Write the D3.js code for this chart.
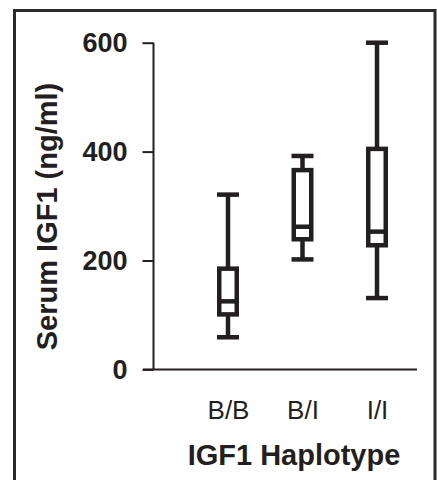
<!DOCTYPE html>
<html><head><meta charset="utf-8">
<script src="https://cdn.jsdelivr.net/npm/d3@7"></script>
<style>html,body{margin:0;padding:0;background:#fff;}svg{display:block;}</style>
</head><body>
<script>
const categories = ["B/B", "B/I", "I/I"];
const minVals    = [59, 202, 131];
const q1Vals     = [101, 239, 228];
const medianVals = [125, 262, 253];
const q3Vals     = [185, 366, 405];
const maxVals    = [321, 392, 600];
const yTicks     = [0, 200, 400, 600];

const W = 437, H = 480, ink = "#231f20";
const svg = d3.select("body").append("svg").attr("width", W).attr("height", H);

svg.append("rect").attr("x", 14.5).attr("y", 10.5).attr("width", 420.5).attr("height", 500)
  .attr("fill", "none").attr("stroke", "#2b2b2b").attr("stroke-width", 3);

const y = d3.scaleLinear().domain([0, 600]).range([369.4, 42.7]);
const x = d3.scalePoint().domain(categories).range([228, 377]);

const font = "'Liberation Sans', Arial, Helvetica, sans-serif";

// y axis
const yAxis = svg.append("g").attr("transform", "translate(153.5,0)")
  .call(d3.axisLeft(y).tickValues(yTicks).tickSize(11).tickPadding(15).tickFormat(d3.format("d")));
yAxis.select(".domain").attr("stroke", ink).attr("stroke-width", 2).attr("d", `M0,${y(600)}V${y(0)}`);
yAxis.selectAll(".tick line").attr("stroke", ink).attr("stroke-width", 2);
yAxis.selectAll(".tick text").attr("fill", ink).style("font-family", font)
  .style("font-size", "27px").style("font-weight", "bold");

// x axis baseline
const xAxis = svg.append("g").attr("transform", `translate(0,${y(0)})`)
  .call(d3.axisBottom(x).tickSize(0));
xAxis.select(".domain").attr("stroke", ink).attr("stroke-width", 2).attr("d", "M143,0H417");
xAxis.selectAll(".tick text").attr("fill", ink).attr("y", 419 - y(0)).attr("dy", 0)
  .style("font-family", font).style("font-size", "26px");

// boxes
const data = categories.map((c, i) => ({c, min: minVals[i], q1: q1Vals[i], med: medianVals[i], q3: q3Vals[i], max: maxVals[i]}));
const bw = 17.5, cw = 22, sw = 4.5;
const g = svg.append("g").attr("stroke", ink).attr("stroke-width", sw).attr("fill", "none");
data.forEach(d => {
  const cx = x(d.c);
  g.append("line").attr("x1", cx).attr("x2", cx).attr("y1", y(d.max)).attr("y2", y(d.q3));
  g.append("line").attr("x1", cx).attr("x2", cx).attr("y1", y(d.q1)).attr("y2", y(d.min));
  g.append("line").attr("x1", cx - cw/2).attr("x2", cx + cw/2).attr("y1", y(d.max)).attr("y2", y(d.max));
  g.append("line").attr("x1", cx - cw/2).attr("x2", cx + cw/2).attr("y1", y(d.min)).attr("y2", y(d.min));
  g.append("rect").attr("x", cx - bw/2).attr("width", bw).attr("y", y(d.q3)).attr("height", y(d.q1) - y(d.q3)).attr("fill", "#fff");
  g.append("line").attr("x1", cx - bw/2).attr("x2", cx + bw/2).attr("y1", y(d.med)).attr("y2", y(d.med));
});

// titles
svg.append("text").attr("x", 294).attr("y", 465).attr("text-anchor", "middle")
  .attr("fill", ink).style("font-family", font).style("font-size", "29px").style("font-weight", "bold")
  .text("IGF1 Haplotype");
svg.append("text").attr("transform", "translate(56.5,216.5) rotate(-90)").attr("text-anchor", "middle")
  .attr("fill", ink).style("font-family", font).style("font-size", "29px").style("font-weight", "bold")
  .text("Serum IGF1 (ng/ml)");
</script>
</body></html>
